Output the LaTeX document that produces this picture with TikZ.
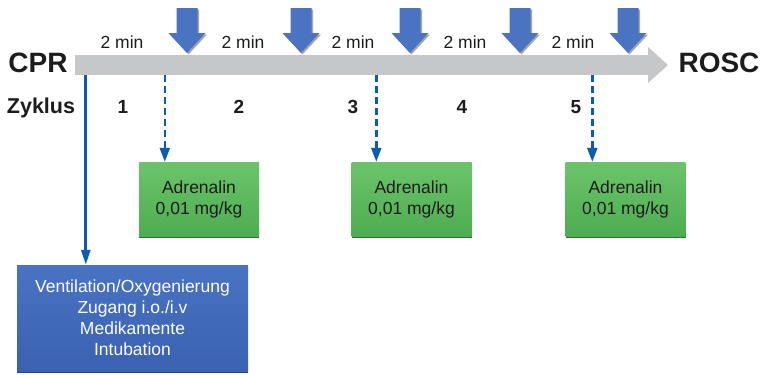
\documentclass[tikz,border=0pt]{standalone}
\usepackage{fontspec}
\setmainfont{Liberation Sans}
\usetikzlibrary{positioning, calc, arrows.meta, shadows}

\definecolor{bargray}{HTML}{C6C7C9}
\definecolor{doseblue}{HTML}{4A73C2}
\definecolor{lineblue}{HTML}{0B5DB1}
\definecolor{adrtop}{HTML}{6CC46A}
\definecolor{adrbot}{HTML}{4DAD50}
\definecolor{adrdark}{HTML}{2F7332}
\definecolor{tasktop}{HTML}{4A73C3}
\definecolor{taskbot}{HTML}{3A61B2}
\definecolor{taskdark}{HTML}{24428A}
\definecolor{textdark}{HTML}{1E1B1C}

\begin{document}
\begin{tikzpicture}[
    x=1pt, y=-1pt,
    lbl/.style={inner sep=0pt, text=textdark},
    big/.style={lbl, font=\fontsize{28}{30}\selectfont\bfseries},
    cyc/.style={lbl, font=\fontsize{19}{21}\selectfont\bfseries, anchor=base},
    dur/.style={lbl, font=\fontsize{17.5}{20}\selectfont, anchor=base},
    shaftbox/.style={rectangle, fill=bargray, inner sep=0pt,
                minimum width=573pt, minimum height=20pt},
    adr/.style={rectangle, inner sep=0pt, top color=adrtop, bottom color=adrbot,
                minimum width=120pt, minimum height=74pt,
                font=\fontsize{17.5}{21}\selectfont, align=center, text=textdark,
                drop shadow={shadow xshift=0pt, shadow yshift=-2pt, fill=adrdark, opacity=1}},
    task/.style={rectangle, inner sep=0pt, top color=tasktop, bottom color=taskbot,
                minimum width=231pt, minimum height=106pt,
                font=\fontsize{17.5}{21}\selectfont, align=center, text=white,
                drop shadow={shadow xshift=0pt, shadow yshift=-2pt, fill=taskdark, opacity=1}},
    solidarrow/.style={-{Triangle[width=9pt, length=15pt]}, line width=2.8pt, lineblue},
    dasharrow/.style={-{Triangle[width=10pt, length=14pt]}, line width=2.4pt, lineblue,
                dash pattern=on 7pt off 4pt},
    dosearrow/.pic={
        \fill[doseblue, drop shadow={shadow xshift=1.5pt, shadow yshift=-1.5pt,
                fill=black, opacity=0.35}]
            (-10.5,8) -- (10.5,8) -- (10.5,33) -- (18.5,33) -- (0,53)
            -- (-18.5,33) -- (-10.5,33) -- cycle;
    }
]
\useasboundingbox (0,0) rectangle (761,375);

%% --- Time bar ---
\node[shaftbox] (shaft) at (361.5,65) {};
\fill[bargray] (shaft.north east) -- (648,47) -- (668,65) -- (648,83)
    -- (shaft.south east) -- cycle;
\coordinate (tip) at (668,65);

\node[big] (cpr)  at (38,63)  {CPR};
\node[big] (rosc) at (719,63) {ROSC};

%% --- Adrenaline doses ---
\pic at (187,0) {dosearrow};
\pic at (301,0) {dosearrow};
\pic at (410,0) {dosearrow};
\pic at (520,0) {dosearrow};
\pic at (628,0) {dosearrow};

%% --- Durations ---
\node[dur] (t1) at (122,48) {2 min};
\node[dur] (t2) at (243,48) {2 min};
\node[dur] (t3) at (353,48) {2 min};
\node[dur] (t4) at (465,48) {2 min};
\node[dur] (t5) at (573,48) {2 min};

%% --- Cycles ---
\node[lbl, font=\fontsize{21.5}{23}\selectfont\bfseries, anchor=base] (zyklus) at (41,113) {Zyklus};
\node[cyc] (c1) at (123,113) {1};
\node[cyc] (c2) at (239,113) {2};
\node[cyc] (c3) at (353,113) {3};
\node[cyc] (c4) at (462,113) {4};
\node[cyc] (c5) at (576,113) {5};

%% --- Boxes ---
\node[adr] (adr1) at (199,199)   {Adrenalin\\0,01 mg/kg};
\node[adr] (adr2) at (411.5,199) {Adrenalin\\0,01 mg/kg};
\node[adr] (adr3) at (625.5,199) {Adrenalin\\0,01 mg/kg};

\node[task] (task) at (132.5,318)
    {Ventilation/Oxygenierung\\Zugang i.o./i.v\\Medikamente\\Intubation};

%% --- Connectors ---
\coordinate (a1) at ($(adr1.north west)+(26,0)$);
\coordinate (a2) at ($(adr2.north west)+(25,0)$);
\coordinate (a3) at ($(adr3.north west)+(27,0)$);
\coordinate (s0) at ($(task.north west)+(69,0)$);

\draw[solidarrow] (s0 |- shaft.south) -- (s0);
\draw[dasharrow]  (a1 |- shaft.south) -- (a1);
\draw[dasharrow]  (a2 |- shaft.south) -- (a2);
\draw[dasharrow]  (a3 |- shaft.south) -- (a3);

\end{tikzpicture}
\end{document}
